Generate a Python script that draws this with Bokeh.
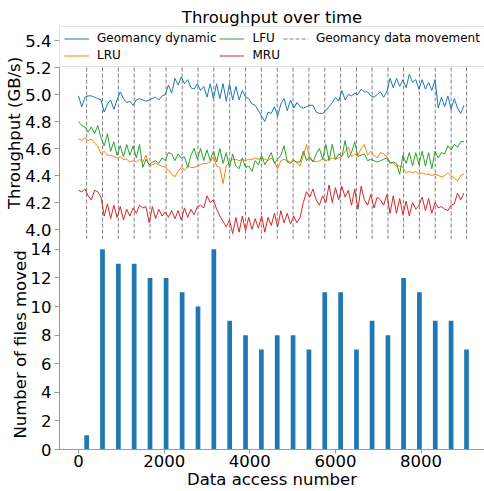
from bokeh.plotting import figure
from bokeh.layouts import column
from bokeh.models import Range1d, FixedTicker, PrintfTickFormatter, Legend, LegendItem
from bokeh.embed import file_html
from bokeh.resources import INLINE

# ---------------- data ----------------
access = list(range(0, 9001, 75))  # data access number of each throughput sample

geomancy = [
    4.99, 4.91, 4.98, 4.99, 4.99, 4.98, 4.97, 4.96, 4.87, 4.93,
    4.96, 4.89, 4.96, 5.02, 4.97, 4.94, 4.95, 4.92, 4.96, 4.97,
    4.96, 4.95, 4.96, 4.97, 4.98, 4.96, 4.99, 5.00, 5.07, 5.01,
    5.12, 5.07, 5.13, 5.08, 5.11, 5.05, 5.04, 5.08, 5.03, 5.06,
    4.98, 5.08, 4.97, 5.08, 4.97, 5.08, 4.95, 5.08, 4.96, 5.06,
    4.96, 5.03, 4.98, 4.97, 4.93, 4.92, 4.88, 4.84, 4.80, 4.87,
    4.86, 4.91, 4.84, 4.93, 4.97, 4.88, 4.96, 4.90, 4.94, 4.91,
    4.90, 4.91, 4.92, 4.92, 4.87, 4.86, 4.86, 4.88, 4.91, 4.94,
    4.98, 4.95, 5.03, 4.96, 5.00, 4.99, 5.01, 5.00, 5.04, 5.02,
    5.02, 4.99, 4.98, 5.00, 5.02, 4.98, 5.02, 5.12, 5.05, 5.12,
    5.06, 5.11, 5.05, 5.15, 5.09, 5.11, 5.04, 5.11, 5.04, 5.09,
    5.03, 5.11, 4.90, 4.98, 4.91, 4.99, 4.89, 4.97, 4.90, 4.86, 4.92,
]

lru = [
    4.67, 4.66, 4.68, 4.66, 4.67, 4.64, 4.62, 4.56, 4.58, 4.55,
    4.55, 4.54, 4.53, 4.54, 4.52, 4.52, 4.50, 4.51, 4.50, 4.52,
    4.50, 4.55, 4.47, 4.48, 4.49, 4.48, 4.47, 4.46, 4.44, 4.41,
    4.39, 4.43, 4.46, 4.44, 4.47, 4.46, 4.46, 4.47, 4.48, 4.49,
    4.49, 4.50, 4.54, 4.47, 4.46, 4.34, 4.47, 4.50, 4.52, 4.52,
    4.51, 4.52, 4.51, 4.52, 4.52, 4.53, 4.52, 4.53, 4.52, 4.51,
    4.53, 4.50, 4.45, 4.51, 4.52, 4.51, 4.50, 4.52, 4.49, 4.47,
    4.55, 4.63, 4.52, 4.51, 4.50, 4.51, 4.52, 4.51, 4.52, 4.53,
    4.52, 4.53, 4.54, 4.58, 4.61, 4.54, 4.56, 4.55, 4.60, 4.63,
    4.55, 4.58, 4.55, 4.53, 4.57, 4.56, 4.54, 4.50, 4.49, 4.47,
    4.47, 4.46, 4.42, 4.43, 4.42, 4.43, 4.41, 4.42, 4.41, 4.41,
    4.40, 4.41, 4.40, 4.39, 4.40, 4.42, 4.40, 4.38, 4.36, 4.40, 4.41,
]

lfu = [
    4.80, 4.77, 4.76, 4.72, 4.76, 4.71, 4.77, 4.68, 4.62, 4.71,
    4.58, 4.65, 4.55, 4.62, 4.54, 4.63, 4.55, 4.62, 4.53, 4.63,
    4.46, 4.52, 4.48, 4.50, 4.51, 4.49, 4.53, 4.51, 4.57, 4.56,
    4.51, 4.56, 4.53, 4.54, 4.46, 4.55, 4.60, 4.52, 4.60, 4.51,
    4.59, 4.51, 4.58, 4.50, 4.60, 4.49, 4.57, 4.46, 4.56, 4.47,
    4.45, 4.53, 4.46, 4.47, 4.43, 4.51, 4.48, 4.55, 4.48, 4.52,
    4.57, 4.49, 4.52, 4.55, 4.62, 4.50, 4.49, 4.51, 4.50, 4.50,
    4.58, 4.51, 4.54, 4.50, 4.56, 4.60, 4.52, 4.63, 4.51, 4.63,
    4.52, 4.56, 4.54, 4.66, 4.53, 4.57, 4.65, 4.54, 4.55, 4.56,
    4.51, 4.52, 4.51, 4.50, 4.51, 4.52, 4.53, 4.49, 4.50, 4.49,
    4.41, 4.55, 4.49, 4.57, 4.47, 4.57, 4.48, 4.58, 4.47, 4.57,
    4.45, 4.58, 4.53, 4.57, 4.56, 4.62, 4.59, 4.63, 4.61, 4.65, 4.65,
]

mru = [
    4.29, 4.28, 4.30, 4.25, 4.22, 4.29, 4.28, 4.24, 4.10, 4.19,
    4.08, 4.18, 4.09, 4.17, 4.07, 4.15, 4.10, 4.16, 4.12, 4.18,
    4.16, 4.17, 4.05, 4.17, 4.08, 4.15, 4.10, 4.13, 4.09, 4.14,
    4.08, 4.14, 4.07, 4.16, 4.09, 4.15, 4.11, 4.17, 4.18, 4.16,
    4.25, 4.20, 4.22, 4.15, 4.10, 4.06, 4.02, 4.07, 3.97, 4.09,
    3.98, 4.10, 3.99, 4.09, 4.00, 4.08, 4.01, 4.10, 3.98, 4.09,
    4.03, 4.12, 4.02, 4.14, 4.05, 4.12, 4.04, 4.10, 4.05, 4.09,
    4.20, 4.28, 4.24, 4.30, 4.22, 4.18, 4.25, 4.20, 4.33, 4.20,
    4.31, 4.22, 4.32, 4.24, 4.29, 4.18, 4.30, 4.15, 4.32, 4.22,
    4.18, 4.26, 4.16, 4.24, 4.22, 4.18, 4.26, 4.12, 4.25, 4.12,
    4.23, 4.11, 4.21, 4.10, 4.20, 4.15, 4.18, 4.24, 4.14, 4.23,
    4.12, 4.20, 4.16, 4.17, 4.15, 4.14, 4.18, 4.19, 4.27, 4.22, 4.27,
]

moves = [190, 560, 930, 1300, 1670, 2045, 2420, 2790, 3160, 3530,
         3900, 4270, 4640, 5010, 5380, 5750, 6120, 6490, 6855, 7225,
         7590, 7960, 8330, 8700, 9060]
files_moved = [1, 14, 13, 13, 12, 12, 11, 10, 14, 9, 8, 7, 8, 8, 7,
               11, 11, 7, 9, 8, 12, 11, 9, 9, 7]

tp_ticks = [4.0, 4.2, 4.4, 4.6, 4.8, 5.0, 5.2, 5.4]
files_ticks = [0, 2, 4, 6, 8, 10, 12, 14]
access_ticks = [0, 2000, 4000, 6000, 8000]

# ---------------- style ----------------
FONT = "DejaVu Sans"
AX = "#9a9a9a"
BIG = "16.5px"
TP_LO, TP_HI = 3.926, 5.504


def style_yaxis(ax, label):
    ax.axis_label = label
    ax.axis_label_text_font = FONT
    ax.axis_label_text_font_size = BIG
    ax.axis_label_text_font_style = "normal"
    ax.axis_label_text_color = "black"
    ax.axis_label_standoff = -2
    ax.major_label_text_font = FONT
    ax.major_label_text_font_size = BIG
    ax.major_label_text_color = "black"
    ax.major_label_standoff = 3
    ax.major_tick_out = 5
    ax.major_tick_in = 0
    ax.minor_tick_out = 0
    ax.minor_tick_in = 0
    ax.axis_line_color = AX
    ax.major_tick_line_color = AX


# ---------------- top: throughput ----------------
p1 = figure(width=484, height=239, x_range=Range1d(-444, 9480),
            y_range=Range1d(TP_LO, TP_HI), output_backend="svg",
            toolbar_location=None, min_border_left=59, min_border_right=0,
            min_border_top=26, min_border_bottom=0,
            title="Throughput over time")
p1.title.align = "center"
p1.title.text_font = FONT
p1.title.text_font_size = BIG
p1.title.text_font_style = "normal"
p1.title.text_color = "black"
p1.title.standoff = 0
p1.grid.visible = False
p1.outline_line_color = None
p1.background_fill_color = "white"

style_yaxis(p1.yaxis[0], "Throughput (GB/s)")
p1.yaxis[0].ticker = FixedTicker(ticks=tp_ticks)
p1.yaxis[0].formatter = PrintfTickFormatter(format="%.1f")

xa = p1.xaxis[0]
xa.ticker = FixedTicker(ticks=[])
xa.major_label_text_font_size = "0px"
xa.major_tick_out = 0
xa.major_tick_in = 0
xa.minor_tick_out = 0
xa.minor_tick_in = 0
xa.major_label_standoff = 0
xa.axis_line_color = AX

r_mov = p1.segment(x0=moves, x1=moves, y0=TP_LO, y1=TP_HI,
                   line_color="#808080", line_width=1, line_dash="4 2")
r_geo = p1.line(access, geomancy, line_color="#1f77b4", line_width=1)
r_lru = p1.line(access, lru, line_color="#ff7f0e", line_width=1)
r_lfu = p1.line(access, lfu, line_color="#2ca02c", line_width=1)
r_mru = p1.line(access, mru, line_color="#d62728", line_width=1)

legend = Legend(items=[
    LegendItem(label="Geomancy dynamic", renderers=[r_geo]),
    LegendItem(label="LRU", renderers=[r_lru]),
    LegendItem(label="LFU", renderers=[r_lfu]),
    LegendItem(label="MRU", renderers=[r_mru]),
    LegendItem(label="Geomancy data movement", renderers=[r_mov]),
], location="top_left", orientation="vertical", nrows=2)
legend.margin = 0
legend.padding = 4
legend.spacing = 3
legend.label_text_font = FONT
legend.label_text_font_size = "12px"
legend.label_text_color = "black"
legend.label_standoff = 8
legend.glyph_width = 25
legend.glyph_height = 13
legend.label_height = 13
legend.border_line_color = "#c8c8c8"
legend.border_line_width = 1
legend.background_fill_color = "white"
legend.background_fill_alpha = 1.0
p1.add_layout(legend)

# ---------------- bottom: files moved ----------------
p2 = figure(width=484, height=252, x_range=p1.x_range,
            y_range=Range1d(0, 14.69), output_backend="svg",
            toolbar_location=None, min_border_left=59, min_border_right=0,
            min_border_top=0, min_border_bottom=0)
p2.grid.visible = False
p2.outline_line_color = None
p2.vbar(x=moves, top=files_moved, width=110, fill_color="#1f77b4",
        line_color=None)

style_yaxis(p2.yaxis[0], "Number of files moved")
p2.yaxis[0].ticker = FixedTicker(ticks=files_ticks)

bx = p2.xaxis[0]
bx.ticker = FixedTicker(ticks=access_ticks)
bx.axis_label = "Data access number"
bx.axis_label_text_font = FONT
bx.axis_label_text_font_size = BIG
bx.axis_label_text_font_style = "normal"
bx.axis_label_text_color = "black"
bx.axis_label_standoff = 0
bx.major_label_text_font = FONT
bx.major_label_text_font_size = BIG
bx.major_label_text_color = "black"
bx.major_label_standoff = 1
bx.major_tick_out = 4
bx.major_tick_in = 0
bx.minor_tick_out = 0
bx.minor_tick_in = 0
bx.axis_line_color = AX
bx.major_tick_line_color = AX

layout = column(p1, p2, spacing=0)
open("out.html", "w").write(file_html(layout, INLINE))
